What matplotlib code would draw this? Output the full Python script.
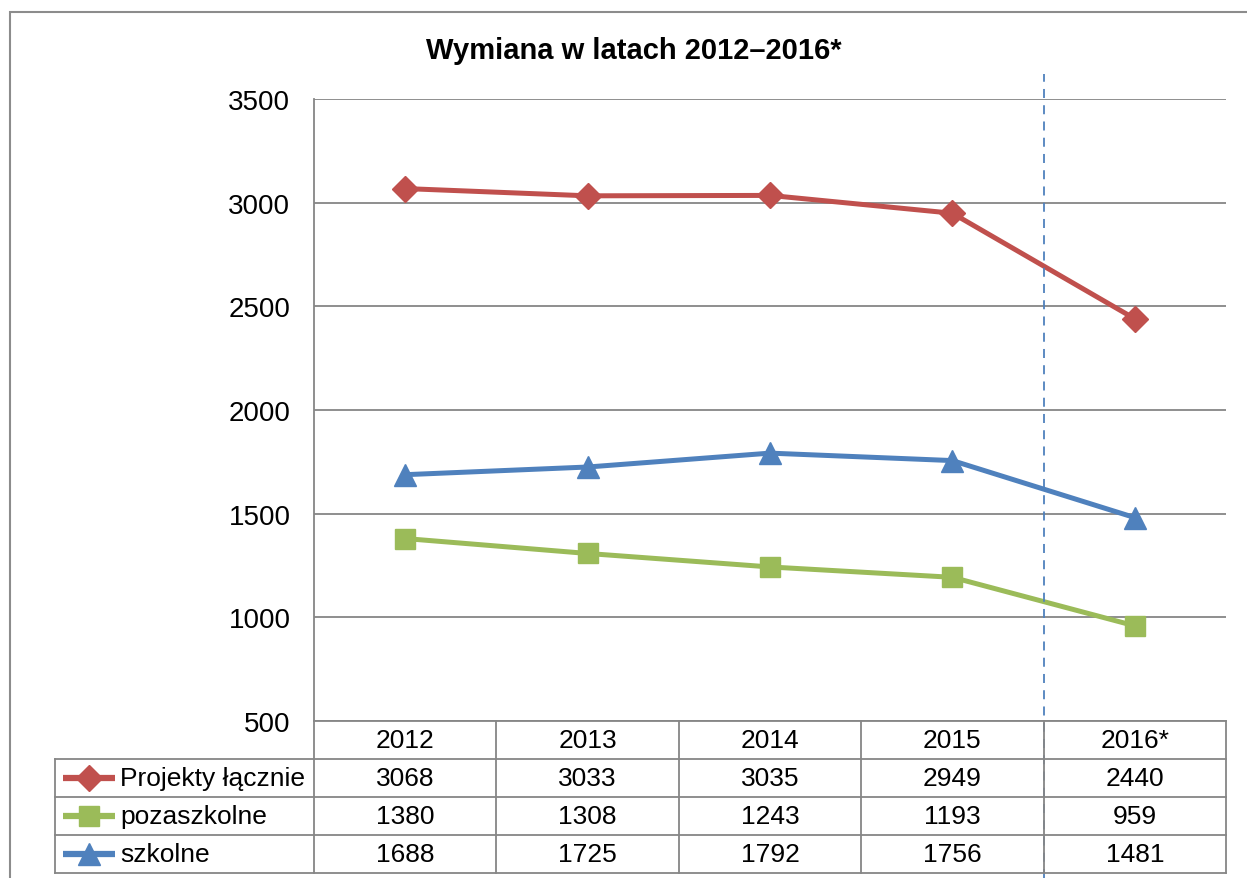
import numpy as np
import matplotlib
matplotlib.use("Agg")
import matplotlib.pyplot as plt
from matplotlib.patches import Rectangle

plt.rcParams['font.family'] = ['Liberation Sans', 'DejaVu Sans']

years = ['2012', '2013', '2014', '2015', '2016*']
series_names = ['Projekty łącznie', 'pozaszkolne', 'szkolne']
total = [3068, 3033, 3035, 2949, 2440]
pozaszkolne = [1380, 1308, 1243, 1193, 959]
szkolne = [1688, 1725, 1792, 1756, 1481]
yticks = [500, 1000, 1500, 2000, 2500, 3000, 3500]

colors = ['#C0504D', '#9BBB59', '#4F81BD']
markers = ['D', 's', '^']
msizes = [13, 15, 16]
values = [total, pozaszkolne, szkolne]
fs = 20
tfs = 19

W, H = 1247, 879
fig = plt.figure(figsize=(W / 100, H / 100), dpi=100)

# outer frame
fig.patches.append(Rectangle((10 / W, -0.1), 1.2, 1.1 - 13 / H, transform=fig.transFigure,
                             fill=False, edgecolor='#8c8c8c', linewidth=1.5))

# plot area
left, right, top, bottom = 314, 1226, 100, 722
ax = fig.add_axes([left / W, (H - bottom) / H, (right - left) / W, (bottom - top) / H])
x = np.arange(len(years))
for vals, c, m, ms in zip(values, colors, markers, msizes):
    ax.plot(x, vals, color=c, lw=3.6, marker=m, markersize=ms, zorder=3)
ax.set_xlim(-0.5, len(years) - 0.5)
ax.set_ylim(500, 3500)
ax.set_yticks(yticks)
ax.set_xticks([])
ax.tick_params(axis='y', length=0, pad=17, labelsize=fs)
ax.grid(axis='y', color='#868686', lw=1.3)
for s in ['top', 'right', 'bottom']:
    ax.spines[s].set_visible(False)
ax.spines['left'].set_color('#868686')
ax.spines['left'].set_linewidth(1.3)

# dashed separator before 2016*
ax.axvline(3.5, ymin=(bottom - H) / (bottom - top), ymax=(bottom - 75) / (bottom - top),
           color='#4F81BD', lw=1.3, ls=(0, (5, 4)), clip_on=False, zorder=5)

fig.text(634 / W, (H - 51) / H, 'Wymiana w latach 2012–2016*', ha='center', va='center',
         fontsize=21, fontweight='bold')

# data table
unit = (right - left) / len(years)
tl = 55
x0 = -0.5 - (left - tl) / unit
tab_top, tab_bot = 722, 874
tax = fig.add_axes([tl / W, (H - tab_bot) / H, (right - tl) / W, (tab_bot - tab_top) / H])
tax.set_xlim(x0, len(years) - 0.5)
tax.set_ylim(4, 0)
tax.axis('off')
lc = '#868686'
tax.plot([-0.5, len(years) - 0.5], [0, 0], color=lc, lw=1.3, clip_on=False)
for r in range(1, 5):
    tax.plot([x0, len(years) - 0.5], [r, r], color=lc, lw=1.3, clip_on=False)
tax.plot([x0, x0], [1, 4], color=lc, lw=1.3, clip_on=False)
for b in np.arange(len(years) + 1) - 0.5:
    tax.plot([b, b], [0, 4], color=lc, lw=1.3, clip_on=False)
for i, y in enumerate(years):
    tax.text(i, 0.5, y, ha='center', va='center', fontsize=tfs)
for r, (name, vals, c, m, ms) in enumerate(zip(series_names, values, colors, markers, msizes)):
    yy = r + 1.5
    mx0 = x0 + 8 / unit
    mx1 = x0 + 60 / unit
    tax.plot([mx0, mx1], [yy, yy], color=c, lw=4.5, solid_capstyle='butt', clip_on=False)
    tax.plot([(mx0 + mx1) / 2], [yy], color=c, marker=m, markersize=ms, clip_on=False)
    tax.text(x0 + 65 / unit, yy, name, ha='left', va='center', fontsize=tfs)
    for i, v in enumerate(vals):
        tax.text(i, yy, str(v), ha='center', va='center', fontsize=tfs)

fig.savefig('out.png', dpi=100)
